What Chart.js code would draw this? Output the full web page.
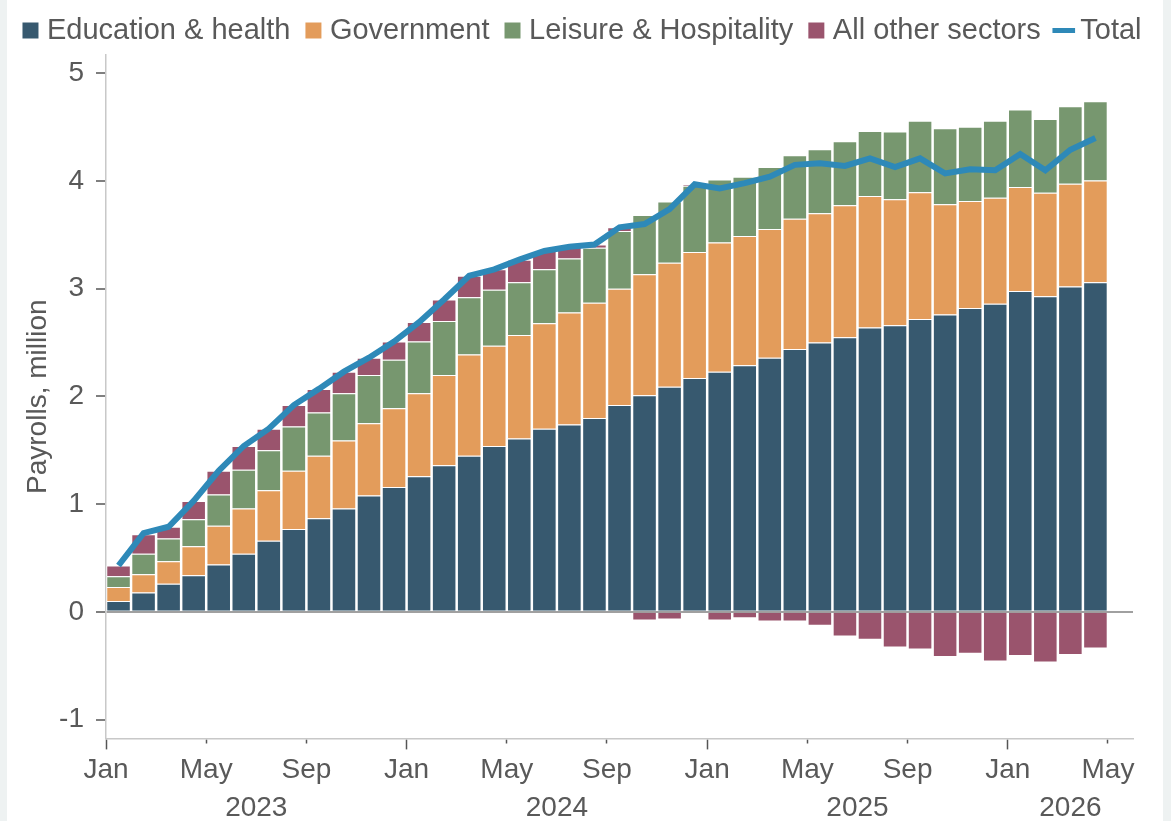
<!DOCTYPE html>
<html>
<head>
<meta charset="utf-8">
<title>Payrolls by sector</title>
<script src="https://cdn.jsdelivr.net/npm/chart.js@4.4.1/dist/chart.umd.min.js"></script>
<style>
  html, body { margin: 0; padding: 0; background: #eef2f2; }
  #wrap { position: absolute; left: 7px; top: 0; width: 1156px; height: 821px; background: #fff; }
</style>
</head>
<body>
<div id="wrap"><canvas id="chart" width="1156" height="821"></canvas></div>
<script>
// monthly cumulative payroll change, million

const months = [
  '2023-01', '2023-02', '2023-03', '2023-04', '2023-05', '2023-06', '2023-07', '2023-08', '2023-09', '2023-10', '2023-11', '2023-12',
  '2024-01', '2024-02', '2024-03', '2024-04', '2024-05', '2024-06', '2024-07', '2024-08', '2024-09', '2024-10', '2024-11', '2024-12',
  '2025-01', '2025-02', '2025-03', '2025-04', '2025-05', '2025-06', '2025-07', '2025-08', '2025-09', '2025-10', '2025-11', '2025-12',
  '2026-01', '2026-02', '2026-03', '2026-04'
];

const education = [0.10, 0.18, 0.26, 0.34, 0.44, 0.54, 0.66, 0.77, 0.87, 0.96, 1.08, 1.16,
  1.26, 1.36, 1.45, 1.54, 1.61, 1.70, 1.74, 1.80, 1.92, 2.01, 2.09, 2.17,
  2.23, 2.29, 2.36, 2.44, 2.50, 2.55, 2.64, 2.66, 2.72, 2.76, 2.82, 2.86,
  2.98, 2.93, 3.02, 3.06];

const government = [0.13, 0.17, 0.21, 0.27, 0.36, 0.42, 0.47, 0.54, 0.58, 0.63, 0.67, 0.73,
  0.77, 0.84, 0.94, 0.93, 0.96, 0.98, 1.04, 1.07, 1.08, 1.125, 1.15, 1.17,
  1.20, 1.20, 1.195, 1.21, 1.20, 1.225, 1.22, 1.17, 1.175, 1.025, 0.995, 0.985,
  0.965, 0.96, 0.955, 0.945];

const leisure = [0.10, 0.19, 0.21, 0.25, 0.29, 0.36, 0.37, 0.41, 0.40, 0.44, 0.45, 0.45,
  0.48, 0.50, 0.53, 0.52, 0.49, 0.50, 0.50, 0.51, 0.535, 0.55, 0.57, 0.615,
  0.585, 0.55, 0.575, 0.59, 0.595, 0.595, 0.605, 0.63, 0.665, 0.705, 0.69, 0.715,
  0.72, 0.685, 0.72, 0.735];

const other = [0.10, 0.18, 0.11, 0.17, 0.22, 0.22, 0.20, 0.20, 0.22, 0.20, 0.16, 0.17,
  0.18, 0.20, 0.20, 0.19, 0.21, 0.17, 0.11, 0.03, 0.035, -0.08, -0.07, 0.015,
  -0.08, -0.06, -0.09, -0.09, -0.13, -0.23, -0.26, -0.33, -0.35, -0.42, -0.39, -0.46,
  -0.41, -0.47, -0.40, -0.34];

const total = [0.43, 0.73, 0.79, 1.03, 1.31, 1.54, 1.70, 1.92, 2.07, 2.23, 2.36, 2.51,
  2.69, 2.90, 3.12, 3.18, 3.27, 3.35, 3.39, 3.41, 3.57, 3.60, 3.74, 3.97,
  3.93, 3.98, 4.04, 4.15, 4.165, 4.14, 4.21, 4.13, 4.21, 4.07, 4.11, 4.10,
  4.25, 4.10, 4.29, 4.40];

// axis labels
const monthTickLabels = ['Jan', 'May', 'Sep', 'Jan', 'May', 'Sep', 'Jan', 'May', 'Sep', 'Jan', 'May'];
const years = ['2023', '2024', '2025', '2026'];
const yTicks = [-1, 0, 1, 2, 3, 4, 5];

const FONT = "'Liberation Sans', Arial, sans-serif";
const GREY = '#595959';
const X_END = months.length + 1; // axis runs one month past the last bar

// bars sit in the middle of their month
const toPoints = arr => arr.map((v, i) => ({ x: i + 0.5, y: v }));

function barSet(label, data, color) {
  return {
    type: 'bar',
    label: label,
    data: toPoints(data),
    xAxisID: 'x',
    yAxisID: 'y',
    backgroundColor: color,
    borderColor: 'rgba(255,255,255,0.75)',
    borderWidth: 1,
    barPercentage: 1,
    categoryPercentage: 0.98,
    stack: 'sectors',
    order: 1
  };
}

const datasets = [
  barSet('Education & health', education, '#37596f'),
  barSet('Government', government, '#e39c5b'),
  barSet('Leisure & Hospitality', leisure, '#77976f'),
  barSet('All other sectors', other, '#9a546d'),
  {
    type: 'line',
    label: 'Total',
    data: toPoints(total),
    xAxisID: 'x',
    yAxisID: 'y',
    borderColor: '#2e89b8',
    backgroundColor: '#2e89b8',
    borderWidth: 6,
    pointRadius: 0,
    tension: 0,
    stack: 'total',
    order: 0
  }
];

const chart = new Chart(document.getElementById('chart'), {
  type: 'bar',
  data: { datasets: datasets },
  options: {
    responsive: false,
    animation: false,
    layout: { padding: { left: 0, right: 0, top: -5, bottom: 0 } },
    plugins: {
      tooltip: { enabled: false },
      legend: {
        position: 'top',
        labels: {
          usePointStyle: true,
          boxWidth: 4,
          boxHeight: 16,
          padding: 21,
          color: GREY,
          font: { family: FONT, size: 29 },
          generateLabels: c => c.data.datasets.map((ds, i) => ({
            text: ds.label,
            fillStyle: ds.backgroundColor,
            strokeStyle: ds.type === 'line' ? ds.borderColor : ds.backgroundColor,
            lineWidth: ds.type === 'line' ? 5 : 0,
            pointStyle: ds.type === 'line' ? 'line' : 'rect',
            fontColor: GREY,
            hidden: false,
            datasetIndex: i
          }))
        }
      }
    },
    scales: {
      x: {
        type: 'linear',
        min: 0,
        max: X_END,
        stacked: true,
        offset: false,
        afterBuildTicks: axis => { axis.ticks = monthTickLabels.map((t, i) => ({ value: i * 4 })); },
        ticks: {
          color: GREY,
          font: { family: FONT, size: 28 },
          padding: 4,
          maxRotation: 0,
          autoSkip: false,
          callback: (v, i) => monthTickLabels[i]
        },
        grid: {
          offset: false,
          drawOnChartArea: false,
          tickLength: 11,
          tickColor: '#555',
          tickWidth: 1.5,
          tickBorderDash: c => (c.tick && c.tick.value % 12 === 0) ? [] : [4, 20]
        },
        border: { color: '#c8c8c8', width: 1.5 }
      },
      years: {
        type: 'linear',
        position: 'bottom',
        weight: 1,
        min: 0,
        max: X_END,
        offset: false,
        afterBuildTicks: axis => {
          axis.ticks = years.map((y, k) => ({ value: (k * 12 + Math.min(k * 12 + 12, X_END)) / 2 }));
        },
        afterFit: axis => { axis.height = 30; },
        ticks: {
          color: GREY,
          font: { family: FONT, size: 28 },
          padding: 0,
          maxRotation: 0,
          autoSkip: false,
          callback: (v, i) => years[i]
        },
        grid: { display: false, drawTicks: false, offset: false },
        border: { display: false }
      },
      // empty right-hand axis only keeps room at the right of the plot
      pad: {
        type: 'linear',
        position: 'right',
        display: true,
        min: 0,
        max: 1,
        ticks: { display: false },
        grid: { display: false, drawTicks: false },
        border: { display: false },
        afterFit: axis => { axis.width = 30; }
      },
      y: {
        stacked: true,
        min: -1.175,
        max: 5.17,
        afterBuildTicks: axis => { axis.ticks = yTicks.map(v => ({ value: v })); },
        afterFit: axis => { axis.width = 99; },
        ticks: {
          color: GREY,
          font: { family: FONT, size: 28 },
          padding: 12,
          callback: v => String(v)
        },
        grid: {
          color: c => (c.tick && c.tick.value === 0) ? '#a0a0a0' : 'rgba(0,0,0,0)',
          lineWidth: 2,
          tickColor: '#555',
          tickLength: 10,
          tickWidth: 1.5
        },
        border: { color: '#c8c8c8', width: 1.5 },
        title: {
          display: true,
          text: 'Payrolls, million',
          color: GREY,
          padding: { top: 14, bottom: 4 },
          font: { family: FONT, size: 28 }
        }
      }
    }
  }
});
</script>
</body>
</html>
